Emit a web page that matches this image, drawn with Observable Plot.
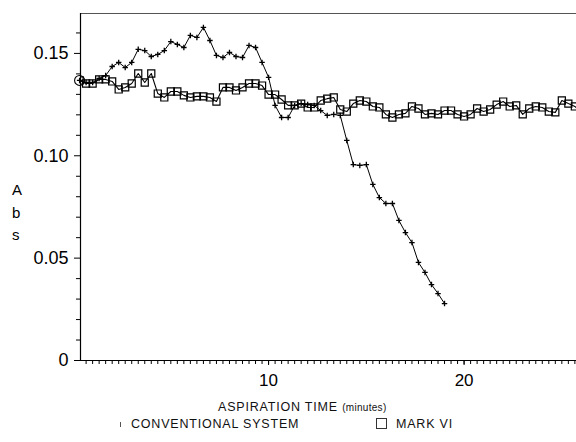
<!DOCTYPE html>
<html>
<head>
<meta charset="utf-8">
<script src="https://cdn.jsdelivr.net/npm/d3@7"></script>
<script src="https://cdn.jsdelivr.net/npm/@observablehq/plot@0.6"></script>
<style>
  html, body { margin: 0; padding: 0; background: #fff; }
  #wrap { position: relative; width: 576px; height: 442px; font-family: "Liberation Sans", Arial, sans-serif; color: #000; }
  .ylab { position: absolute; left: 12px; font-size: 15px; line-height: 15px; }
  .leg { position: absolute; font-size: 12.5px; letter-spacing: 0.8px; white-space: nowrap; color: #111; }
</style>
</head>
<body>
<div id="wrap"></div>
<script>
// Sampling: one reading every 20 seconds (1/3 minute), first reading at 20 s
const sampleInterval = 1 / 3;

// CONVENTIONAL SYSTEM absorbance readings
const conventional = [
  0.1368,0.1358,0.1358,0.1378,0.1392,0.1436,0.1456,0.1431,0.1456,0.1520,
  0.1514,0.1485,0.1495,0.1514,0.1558,0.1544,0.1529,0.1588,0.1578,0.1627,
  0.1563,0.1490,0.1480,0.1505,0.1485,0.1480,0.1539,0.1529,0.1456,0.1383,
  0.1246,0.1187,0.1187,0.1246,0.1255,0.1250,0.1246,0.1221,0.1197,0.1202,
  0.1197,0.1075,0.0957,0.0953,0.0957,0.0860,0.0796,0.0767,0.0767,0.0684,
  0.0625,0.0576,0.0479,0.0430,0.0371,0.0327,0.0278
];

// MARK VI absorbance readings
const markVI = [
  0.1368,0.1353,0.1353,0.1373,0.1373,0.1363,0.1324,0.1334,0.1353,0.1402,
  0.1358,0.1402,0.1304,0.1285,0.1314,0.1314,0.1295,0.1285,0.1290,0.1290,
  0.1285,0.1265,0.1334,0.1334,0.1319,0.1334,0.1353,0.1353,0.1343,0.1299,
  0.1299,0.1275,0.1246,0.1246,0.1255,0.1236,0.1236,0.1270,0.1279,0.1285,
  0.1226,0.1216,0.1255,0.1270,0.1265,0.1241,0.1236,0.1202,0.1187,0.1202,
  0.1207,0.1241,0.1231,0.1202,0.1207,0.1202,0.1221,0.1221,0.1202,0.1192,
  0.1202,0.1231,0.1216,0.1226,0.1250,0.1265,0.1241,0.1246,0.1202,0.1231,
  0.1241,0.1236,0.1216,0.1212,0.1270,0.1255,0.1241,0.1212
];

const yTickValues = [0, 0.05, 0.10, 0.15];
const yTickLabels = ["0", "0.05", "0.10", "0.15"];
const yMinorTicks = [0.01,0.02,0.03,0.04,0.06,0.07,0.08,0.09,0.11,0.12,0.13,0.14,0.16];
const xTickValues = [10, 20];
const xTickLabels = ["10", "20"];
const xMinorTicks = d3.range(1, 78).map(k => k * sampleInterval);

const xDomain = [0.38, 25.75];
const yDomain = [0, 0.1695];

const convData = conventional.map((v, i) => ({t: (i + 1) * sampleInterval, abs: v}));
const markData = markVI.map((v, i) => ({t: (i + 1) * sampleInterval, abs: v}));

const chart = Plot.plot({
  width: 576,
  height: 412,
  marginLeft: 80,
  marginRight: 0,
  marginTop: 13,
  marginBottom: 52,
  style: {fontFamily: "'Liberation Sans', Arial, sans-serif", color: "#000", background: "#fff"},
  x: {domain: xDomain, axis: null},
  y: {domain: yDomain, axis: null},
  marks: [
    // frame lines
    Plot.ruleY([yDomain[1]], {stroke: "#555", strokeWidth: 1}),
    Plot.ruleX([xDomain[0]], {stroke: "#000", strokeWidth: 1.2}),
    Plot.ruleY([0], {stroke: "#000", strokeWidth: 1.2}),
    // y axis ticks
    Plot.axisY(yMinorTicks, {tickSize: 4, tickFormat: () => "", label: null}),
    Plot.axisY(yTickValues, {tickSize: 6, tickPadding: 6, fontSize: 18, style: {letterSpacing: "1.2px"},
      tickFormat: d => yTickLabels[yTickValues.indexOf(d)], label: null}),
    // x axis ticks
    Plot.axisX(xMinorTicks.filter(d => d >= xDomain[0] && d <= xDomain[1]), {tickSize: 4, tickFormat: () => "", label: null}),
    Plot.axisX(xTickValues, {tickSize: 5, tickPadding: 8, fontSize: 17,
      tickFormat: d => xTickLabels[xTickValues.indexOf(d)], label: null}),
    // MARK VI
    Plot.line(markData, {x: "t", y: "abs", stroke: "#000", strokeWidth: 1.1, clip: true}),
    Plot.dot(markData, {x: "t", y: "abs", symbol: "square", r: 4, stroke: "#000", strokeWidth: 1.2, fill: "none", clip: true}),
    // CONVENTIONAL
    Plot.line(convData, {x: "t", y: "abs", stroke: "#000", strokeWidth: 1}),
    Plot.dot(convData, {x: "t", y: "abs", symbol: "plus", r: 1.9, stroke: "#000", strokeWidth: 1.3}),
    // open circle at start
    Plot.dot(markData.slice(0, 1), {x: "t", y: "abs", r: 5, stroke: "#000", fill: "none", strokeWidth: 1.1})
  ]
});

const wrap = document.getElementById("wrap");
wrap.appendChild(chart);

// y axis label stacked letters
[["A", 182], ["b", 205], ["s", 227]].forEach(([ch, top]) => {
  const d = document.createElement("div");
  d.className = "ylab"; d.textContent = ch; d.style.top = top + "px";
  wrap.appendChild(d);
});

// x axis title
const xt = document.createElement("div");
xt.className = "leg";
xt.style.left = "218px"; xt.style.top = "400px";
xt.innerHTML = 'ASPIRATION TIME <span style="font-size:10px;letter-spacing:0.3px">(minutes)</span>';
wrap.appendChild(xt);

// legend
const l1 = document.createElement("div");
l1.className = "leg"; l1.style.left = "131px"; l1.style.top = "417px";
l1.textContent = "CONVENTIONAL SYSTEM";
wrap.appendChild(l1);
const m1 = document.createElement("div");
m1.style.cssText = "position:absolute;left:120px;top:422px;width:1px;height:5px;background:#555;";
wrap.appendChild(m1);
const sq = document.createElement("div");
sq.style.cssText = "position:absolute;left:376px;top:418px;width:11px;height:11px;border:1px solid #333;box-sizing:border-box;";
wrap.appendChild(sq);
const l2 = document.createElement("div");
l2.className = "leg"; l2.style.left = "396px"; l2.style.top = "417px";
l2.textContent = "MARK VI";
wrap.appendChild(l2);
</script>
</body>
</html>
